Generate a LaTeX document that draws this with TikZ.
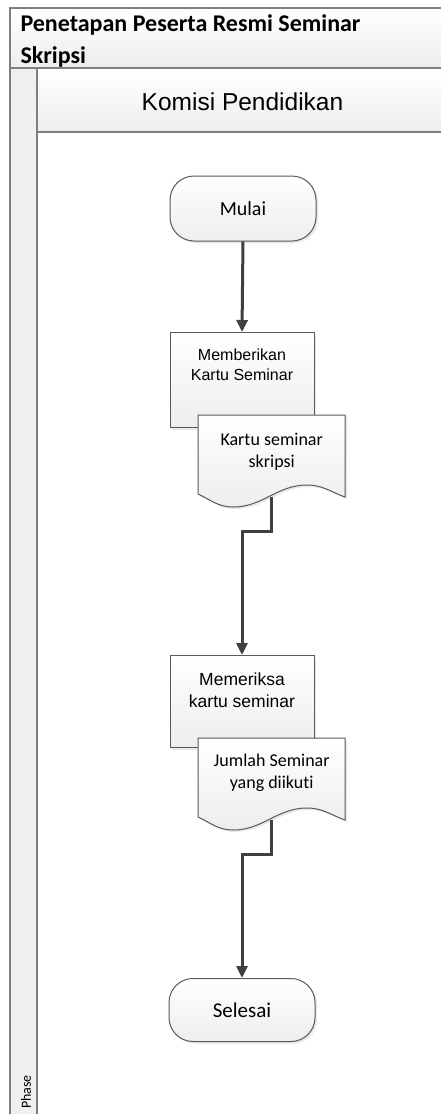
\documentclass[tikz,border=0pt]{standalone}
\usepackage{fontspec}
\usepackage{tikz}
\usetikzlibrary{arrows.meta,positioning,shadows}
\newfontfamily\fcal[Ligatures=NoCommon]{Carlito}
\newfontfamily\farial{Liberation Sans}
\definecolor{garis}{HTML}{404040}
\definecolor{bingkai}{HTML}{7F7F7F}
\definecolor{tepi}{HTML}{5A5A5A}

\begin{document}
\begin{tikzpicture}[
    x=1pt,y=1pt,
    bayang/.style={drop shadow={opacity=0.18,shadow xshift=2pt,shadow yshift=-2pt}},
    isi/.style={top color=white,bottom color=black!7},
    terminal/.style={draw=tepi,line width=1pt,isi,bayang,rounded corners=24pt,
        minimum width=146pt,minimum height=65pt,
        font=\fcal\fontsize{20}{24}\selectfont},
    proses/.style={draw=tepi,line width=1pt,isi,bayang,inner sep=0pt,
        minimum width=144pt,align=center,
        font=\farial\fontsize{16}{20}\selectfont},
    dokumen/.style={draw=tepi,line width=1pt,isi,bayang},
    doktext/.style={inner sep=0pt,minimum width=147pt,align=center,
        font=\fcal\fontsize{18}{22}\selectfont},
    alur/.style={draw=garis,line width=3pt,-{Triangle[length=12pt,width=11pt]}}]
\useasboundingbox[fill=white] (0,0) rectangle (440,-1114);

% swimlane
\draw[bingkai,line width=1.5pt,isi] (10,-8) rectangle (460,-68);
\draw[bingkai,line width=1.5pt,isi] (37,-68) rectangle (460,-132);
\draw[bingkai,line width=1.5pt,fill=black!6] (10,-68) rectangle (37,-1130);
\node (judul) [anchor=base west,align=left,
        font=\fcal\bfseries\fontsize{24}{32}\selectfont] at (17,-63)
        {Penetapan Peserta Resmi Seminar\\Skripsi};
\node (lajur) [anchor=base,font=\farial\fontsize{24.5}{28}\selectfont]
        at (242.5,-110) {Komisi Pendidikan};
\node (fase) [rotate=90,font=\fcal\fontsize{14}{16}\selectfont]
        at (26,-1092) {Phase};

% alur kerja
\node (mulai) [terminal] at (243,-208.5) {Mulai};

\node (proses1) [proses,anchor=north,text height=48pt,text depth=47pt]
        at (242,-332) {Memberikan\\Kartu Seminar};
\coordinate (d1) at (198,-415);
\draw[dokumen] (d1) -- ++(147,0) -- ++(0,-82)
        to[out=160,in=0] ++(-38,12) to[out=180,in=0] ++(-74,-22)
        to[out=180,in=-25] ++(-35,13) -- cycle;
\node (dok1) [doktext,anchor=north west,text height=52pt,text depth=30pt]
        at (d1) {Kartu seminar\\skripsi};

\node (proses2) [proses,anchor=north,text height=52pt,text depth=40pt,
        font=\farial\fontsize{17.5}{22}\selectfont]
        at (242,-655) {Memeriksa\\kartu seminar};
\coordinate (d2) at (198,-738);
\draw[dokumen] (d2) -- ++(147,0) -- ++(0,-82)
        to[out=160,in=0] ++(-38,12) to[out=180,in=0] ++(-74,-22)
        to[out=180,in=-25] ++(-35,13) -- cycle;
\node (dok2) [doktext,anchor=north west,text height=50pt,text depth=32pt]
        at (d2) {Jumlah Seminar\\yang diikuti};

\node (selesai) [terminal,minimum height=63pt,
        font=\fcal\fontsize{21}{24}\selectfont] at (242,-1010) {Selesai};

\draw[alur] (mulai.south) -- (proses1.north);
\draw[alur] (dok1.south) -- ++(0,-34) -| (proses2.north);
\draw[alur] (dok2.south) -- ++(0,-34) -| (selesai.north);
\end{tikzpicture}
\end{document}
